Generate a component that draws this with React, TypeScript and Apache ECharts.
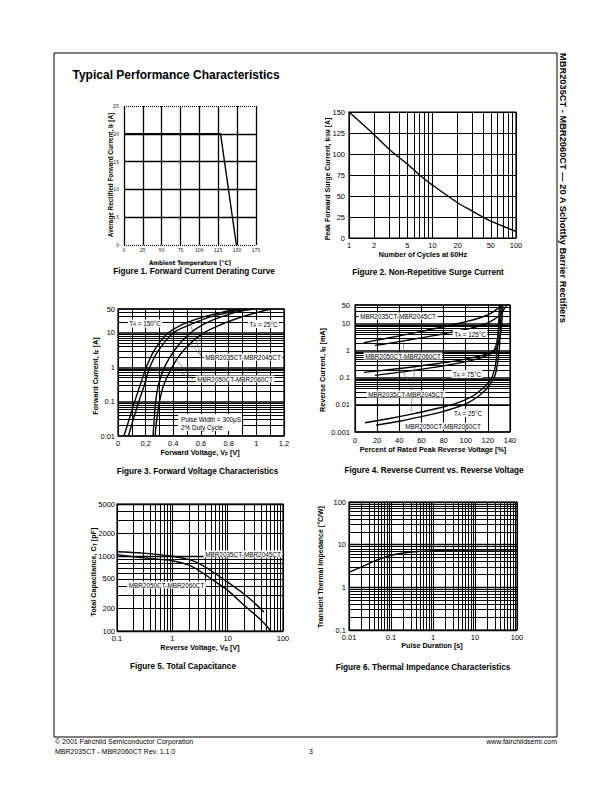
import React, { useEffect, useRef } from "react";
import * as echarts from "echarts";

const SANS = "'Liberation Sans', Arial, Helvetica, sans-serif";
const NARROW = "'Liberation Sans Narrow', 'DejaVu Sans Condensed', sans-serif";

// ---------- Figure 1: Forward current derating ----------
const fig1Curve = [[0, 20], [128, 20], [149, 0]];
const fig1YSolid = [5, 10, 15, 20];
const fig1YDotted = [0, 25];

// ---------- Figure 2: Non-repetitive surge current ----------
const fig2Curve = [[1, 150], [2, 123], [3, 106], [5, 88], [7, 75], [10, 63], [20, 42], [30, 32], [40, 25], [50, 20], [70, 14], [100, 8]];
const fig2XMinor = [2, 3, 4, 5, 6, 7, 8, 9, 20, 30, 40, 50, 60, 70, 80, 90];
const fig2XExtraLabels = [2, 5, 20, 50];

// ---------- Figure 3: Forward voltage characteristics ----------
const fig3Hot3545 = [[0.043, 0.01], [0.08, 0.03], [0.12, 0.1], [0.16, 0.3], [0.2, 0.9], [0.26, 3], [0.35, 9], [0.47, 18], [0.6, 28], [0.75, 40], [0.88, 50]];
const fig3Hot5060 = [[0.075, 0.01], [0.11, 0.03], [0.15, 0.1], [0.19, 0.3], [0.23, 1], [0.29, 3], [0.4, 10], [0.53, 18], [0.65, 28], [0.8, 40], [0.93, 50]];
const fig3Cold3545 = [[0.253, 0.01], [0.262, 0.03], [0.272, 0.1], [0.292, 0.3], [0.335, 1], [0.41, 3.2], [0.51, 9], [0.62, 18], [0.75, 30], [0.87, 42], [0.98, 50]];
const fig3Cold5060 = [[0.268, 0.01], [0.28, 0.03], [0.3, 0.1], [0.33, 0.3], [0.39, 1], [0.47, 3], [0.6, 9], [0.75, 18], [0.88, 28], [1.0, 39], [1.11, 50]];
const fig3YMinor = [0.02, 0.03, 0.04, 0.05, 0.06, 0.07, 0.08, 0.09, 0.2, 0.3, 0.4, 0.5, 0.6, 0.7, 0.8, 0.9, 2, 3, 4, 5, 6, 7, 8, 9, 20, 30, 40];

// ---------- Figure 4: Reverse current vs reverse voltage ----------
const fig4T125a = [[8, 2.0], [20, 2.5], [40, 3.6], [60, 5.3], [80, 7.8], [100, 12], [115, 18], [125, 28], [132, 50]];
const fig4T125b = [[18, 1.6], [30, 1.9], [50, 2.6], [70, 3.6], [90, 5.2], [105, 7], [120, 11], [130, 20], [137, 50]];
const fig4T75a = [[8, 0.16], [30, 0.2], [50, 0.25], [70, 0.32], [90, 0.42], [105, 0.55], [118, 0.75], [125, 1.0], [128, 2], [130, 8], [131, 50]];
const fig4T75b = [[18, 0.125], [40, 0.16], [60, 0.21], [80, 0.28], [100, 0.4], [115, 0.58], [125, 0.9], [129, 1.6], [132, 6], [133.5, 50]];
const fig4T25a = [[9, 0.0022], [30, 0.0031], [50, 0.0045], [70, 0.0068], [90, 0.011], [105, 0.02], [115, 0.04], [122, 0.08], [126, 0.2], [128, 0.7], [129.5, 5], [130.5, 50]];
const fig4T25b = [[19, 0.0018], [40, 0.0025], [60, 0.0037], [80, 0.0058], [100, 0.011], [112, 0.022], [120, 0.045], [126, 0.11], [129, 0.4], [131, 3], [132, 50]];
const fig4YMinor = [0.002, 0.003, 0.004, 0.005, 0.006, 0.007, 0.008, 0.009, 0.02, 0.03, 0.04, 0.05, 0.06, 0.07, 0.08, 0.09, 0.2, 0.3, 0.4, 0.5, 0.6, 0.7, 0.8, 0.9, 2, 3, 4, 5, 6, 7, 8, 9, 20, 30, 40];

// ---------- Figure 5: Total capacitance ----------
const fig5Upper = [[0.1, 1150], [0.3, 1100], [1, 1000], [2, 900], [3, 800], [5, 640], [10, 450], [20, 310], [30, 240], [45, 180]];
const fig5Lower = [[0.1, 1050], [0.3, 950], [1, 870], [2, 760], [3, 650], [5, 500], [10, 350], [20, 220], [40, 140], [60, 100]];
const fig5XMinor = [0.2, 0.3, 0.4, 0.5, 0.6, 0.7, 0.8, 0.9, 2, 3, 4, 5, 6, 7, 8, 9, 20, 30, 40, 50, 60, 70, 80, 90];
const fig5YMinor = [200, 300, 400, 500, 600, 700, 800, 900, 2000, 3000, 4000];
const fig5YExtraLabels = [200, 500, 2000];

// ---------- Figure 6: Thermal impedance ----------
const fig6Curve = [[0.01, 2.25], [0.02, 3.0], [0.05, 4.5], [0.1, 5.6], [0.2, 6.4], [0.5, 7.0], [1, 7.2], [3, 7.4], [10, 7.5], [100, 7.5]];
const fig6XMinor = [0.02, 0.03, 0.04, 0.05, 0.06, 0.07, 0.08, 0.09, 0.2, 0.3, 0.4, 0.5, 0.6, 0.7, 0.8, 0.9, 2, 3, 4, 5, 6, 7, 8, 9, 20, 30, 40, 50, 60, 70, 80, 90];
const fig6YMinor = [0.2, 0.3, 0.4, 0.5, 0.6, 0.7, 0.8, 0.9, 2, 3, 4, 5, 6, 7, 8, 9, 20, 30, 40, 50, 60, 70, 80, 90];

const fmt = (v: number) => String(parseFloat(Number(v).toPrecision(4)));

function gridItems(axis: "xAxis" | "yAxis", values: number[], labels: number[] = [], labelSize = 7.5, dist = 3, type: any = "solid", width = 1) {
  return values.map((v) => ({
    [axis]: v,
    lineStyle: { color: "#000", width, type },
    label: labels.indexOf(v) >= 0
      ? { show: true, position: "start", formatter: fmt(v), fontFamily: SANS, fontSize: labelSize, color: "#000", distance: dist }
      : { show: false },
  }));
}

function markLine(data: any[]) {
  return { silent: true, symbol: "none", animation: false, emphasis: { disabled: true }, data };
}

function curve(xi: number, data: number[][], extra: any = {}) {
  return {
    type: "line", xAxisIndex: xi, yAxisIndex: xi, data, symbol: "none", smooth: 0.35,
    lineStyle: { color: "#000", width: 1.4 }, silent: true, z: 5, ...extra,
  };
}

const split = { show: true, lineStyle: { color: "#000", width: 1.1 } };
const lbl = (size: number, margin: number, family = SANS) => ({ fontFamily: family, fontSize: size, color: "#000", margin, formatter: fmt });
const base = { axisLine: { show: false }, axisTick: { show: false }, splitLine: split };
const gridBox = { show: true, borderColor: "#000", borderWidth: 1.2, backgroundColor: "#fff" };

function txt(x: number, y: number, text: string, size: number, opts: any = {}) {
  const { bold, align, rotation, family, bg, rich, va } = opts;
  return {
    type: "text", x, y, rotation: rotation || 0, z: 100,
    style: {
      text, fill: "#000", fontSize: size, fontFamily: family || SANS, fontWeight: bold ? "bold" : "normal",
      align: align || "center", verticalAlign: va || "middle",
      backgroundColor: bg ? "#fff" : undefined, padding: bg ? [0.5, 1.5] : undefined,
      rich: rich || { s: { fontSize: size * 0.7, fontFamily: family || SANS, fontWeight: bold ? "bold" : "normal", verticalAlign: "bottom", padding: [size * 0.45, 0, 0, 0] } },
    },
  };
}

function ln(x1: number, y1: number, x2: number, y2: number) {
  return { type: "line", z: 99, shape: { x1, y1, x2, y2 }, style: { stroke: "#555", lineWidth: 0.6 } };
}

const ROT = Math.PI / 2;

const option: any = {
  animation: false,
  backgroundColor: "#fff",
  grid: [
    { left: 124, top: 106, width: 132, height: 139, show: false },
    { left: 349, top: 112, width: 167, height: 126, ...gridBox },
    { left: 118, top: 309, width: 166, height: 127, ...gridBox },
    { left: 355, top: 305, width: 155, height: 127, ...gridBox },
    { left: 117, top: 504, width: 166, height: 127, ...gridBox },
    { left: 349, top: 502, width: 168, height: 128, ...gridBox },
  ],
  xAxis: [
    { gridIndex: 0, type: "value", min: 0, max: 175, interval: 25, ...base, splitLine: { show: true, lineStyle: { color: "#000", width: 1.3 } }, axisLabel: lbl(5, 2, NARROW) },
    { gridIndex: 1, type: "log", logBase: 10, min: 1, max: 100, ...base, axisLabel: lbl(7.5, 3) },
    { gridIndex: 2, type: "value", min: 0, max: 1.2, interval: 0.2, ...base, minorTick: { show: false, splitNumber: 2 }, minorSplitLine: { show: true, lineStyle: { color: "#000", width: 1 } }, axisLabel: lbl(7.5, 3) },
    { gridIndex: 3, type: "value", min: 0, max: 140, interval: 20, ...base, axisLabel: lbl(7.5, 4) },
    { gridIndex: 4, type: "log", logBase: 10, min: 0.1, max: 100, ...base, axisLabel: lbl(7.5, 3) },
    { gridIndex: 5, type: "log", logBase: 10, min: 0.01, max: 100, ...base, axisLabel: lbl(7.5, 3) },
  ],
  yAxis: [
    { gridIndex: 0, type: "value", min: 0, max: 25, interval: 5, ...base, splitLine: { show: false }, axisLabel: lbl(5, 5, NARROW) },
    { gridIndex: 1, type: "value", min: 0, max: 150, interval: 25, ...base, axisLabel: lbl(7.5, 4) },
    { gridIndex: 2, type: "log", logBase: 10, min: 0.01, max: 50, ...base, splitLine: { show: true, lineStyle: { color: "#000", width: 1.5 } }, axisLabel: lbl(7.5, 3) },
    { gridIndex: 3, type: "log", logBase: 10, min: 0.001, max: 50, ...base, splitLine: { show: true, lineStyle: { color: "#000", width: 1.5 } }, axisLabel: lbl(7.5, 5) },
    { gridIndex: 4, type: "log", logBase: 10, min: 100, max: 5000, ...base, splitLine: { show: true, lineStyle: { color: "#000", width: 1.4 } }, axisLabel: lbl(7.5, 2) },
    { gridIndex: 5, type: "log", logBase: 10, min: 0.1, max: 100, ...base, splitLine: { show: true, lineStyle: { color: "#000", width: 1.4 } }, axisLabel: lbl(7.5, 3) },
  ],
  series: [
    curve(0, fig1Curve, {
      smooth: false,
      markLine: markLine([
        ...gridItems("yAxis", fig1YSolid, [], 5, 3, "solid", 1.3),
        ...gridItems("yAxis", fig1YDotted, [], 5, 3, "dotted", 1),
      ]),
    }),
    curve(1, fig2Curve, {
      markLine: markLine(gridItems("xAxis", fig2XMinor, fig2XExtraLabels, 7.5, 3)),
    }),
    curve(2, fig3Hot3545, { markLine: markLine(gridItems("yAxis", fig3YMinor)) }),
    curve(2, fig3Hot5060),
    curve(2, fig3Cold3545),
    curve(2, fig3Cold5060),
    curve(3, fig4T125a, { markLine: markLine(gridItems("yAxis", fig4YMinor)) }),
    curve(3, fig4T125b),
    curve(3, fig4T75a),
    curve(3, fig4T75b),
    curve(3, fig4T25a),
    curve(3, fig4T25b),
    curve(4, fig5Upper, {
      markLine: markLine([
        ...gridItems("xAxis", fig5XMinor),
        ...gridItems("yAxis", fig5YMinor, fig5YExtraLabels, 7.5, 2),
      ]),
    }),
    curve(4, fig5Lower),
    curve(5, fig6Curve, {
      markLine: markLine([
        ...gridItems("xAxis", fig6XMinor),
        ...gridItems("yAxis", fig6YMinor),
      ]),
    }),
  ],
  graphic: [
    { type: "rect", z: 1, shape: { x: 54, y: 53, width: 503, height: 684 }, style: { fill: "none", stroke: "#000", lineWidth: 1 } },
    txt(72.5, 75, "Typical Performance Characteristics", 12, { bold: true, align: "left" }),
    txt(563, 53, "MBR2035CT - MBR2060CT — 20 A Schottky Barrier Rectifiers", 9.3, { bold: true, align: "left", rotation: -ROT }),

    // Figure 1
    txt(110, 175, "Average Rectified Forward Current, I{s|F} [A]", 6.4, { bold: true, rotation: ROT }),
    txt(190, 262.7, "Ambient Temperature [°C]", 6.2, { bold: true, family: NARROW }),
    txt(194, 271.5, "Figure 1. Forward Current Derating Curve", 8.2, { bold: true }),

    // Figure 2
    txt(327, 179, "Peak Forward Surge Current, I{s|FSM} [A]", 7, { bold: true, rotation: ROT }),
    txt(423, 254, "Number of Cycles at 60Hz", 7.2, { bold: true }),
    txt(428, 272, "Figure 2. Non-Repetitive Surge Current", 8.2, { bold: true }),

    // Figure 3
    txt(95, 376, "Forward Current, I{s|F} [A]", 7.2, { bold: true, rotation: ROT }),
    txt(200, 452, "Forward Voltage, V{s|F} [V]", 7.2, { bold: true }),
    txt(197.5, 471, "Figure 3. Forward Voltage Characteristics", 8.2, { bold: true }),
    ln(201, 356, 191, 326), ln(201, 356, 191, 344),
    ln(193, 379, 170, 353), ln(193, 379, 179, 372),
    txt(145, 323.5, "T{s|A} = 150°C", 6.3, { bg: true }),
    txt(263.5, 324, "T{s|A} = 25°C", 6.3, { bg: true }),
    txt(243, 357, "MBR2035CT-MBR2045CT", 6.4, { bg: true }),
    txt(235, 379, "MBR2050CT-MBR2060CT", 6.4, { bg: true }),
    { type: "rect", z: 98, shape: { x: 178, y: 414, width: 64, height: 17 }, style: { fill: "#fff" } },
    txt(181, 419, "Pulse Width = 300μS", 6.4, { align: "left" }),
    txt(181, 427, "2% Duty Cycle", 6.4, { align: "left" }),

    // Figure 4
    txt(322, 370, "Reverse Current, I{s|R} [mA]", 7.2, { bold: true, rotation: ROT }),
    txt(433, 449, "Percent of Rated Peak Reverse Voltage [%]", 7.2, { bold: true }),
    txt(434, 470, "Figure 4. Reverse Current vs. Reverse Voltage", 8.2, { bold: true }),
    ln(403, 353, 404, 342), ln(412, 390, 402, 369), ln(412, 390, 415, 367), ln(412, 398, 411, 412),
    txt(398, 316, "MBR2035CT-MBR2045CT", 6.4, { bg: true }),
    txt(470, 334, "T{s|A} = 125°C", 6.3, { bg: true }),
    txt(403, 356, "MBR2050CT-MBR2060CT", 6.4, { bg: true }),
    txt(467, 374, "T{s|A} = 75°C", 6.3, { bg: true }),
    txt(406, 394, "MBR2035CT-MBR2045CT", 6.4, { bg: true }),
    txt(468, 413, "T{s|A} = 25°C", 6.3, { bg: true }),
    txt(443, 426, "MBR2050CT-MBR2060CT", 6.4, { bg: true }),

    // Figure 5
    txt(93, 572, "Total Capacitance, C{s|T} [pF]", 7.2, { bold: true, rotation: ROT }),
    txt(200, 647, "Reverse Voltage, V{s|R} [V]", 7.2, { bold: true }),
    txt(183, 666.5, "Figure 5. Total Capacitance", 8.2, { bold: true }),
    txt(243, 554, "MBR2035CT-MBR2045CT", 6.4, { bg: true }),
    txt(166.5, 585, "MBR2050CT-MBR2060CT", 6.4, { bg: true }),

    // Figure 6
    txt(320, 567, "Transient Thermal Impedance [°C/W]", 7, { bold: true, rotation: ROT }),
    txt(432, 645, "Pulse Duration [s]", 7.2, { bold: true }),
    txt(423, 667, "Figure 6. Thermal Impedance Characteristics", 8.2, { bold: true }),

    // Footer
    txt(55, 741, "© 2001 Fairchild Semiconductor Corporation", 7, { align: "left" }),
    txt(557, 741, "www.fairchildsemi.com", 7, { align: "right" }),
    txt(55, 751.5, "MBR2035CT - MBR2060CT Rev. 1.1.0", 7, { align: "left" }),
    txt(311, 751.5, "3", 7),
  ],
};

export default function App() {
  const ref = useRef<HTMLDivElement>(null);
  useEffect(() => {
    const chart = echarts.init(ref.current as HTMLDivElement, null, { renderer: "svg" });
    chart.setOption(option);
    return () => chart.dispose();
  }, []);
  return <div ref={ref} style={{ position: "absolute", left: 0, top: 0, width: 612, height: 792, background: "#fff" }} />;
}
